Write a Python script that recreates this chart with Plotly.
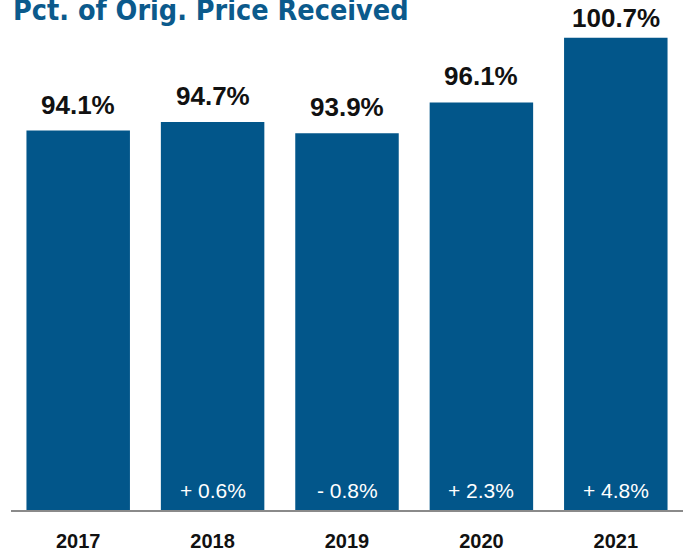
import plotly.graph_objects as go

years = ["2017", "2018", "2019", "2020", "2021"]
pct_received = [94.1, 94.7, 93.9, 96.1, 100.7]
value_labels = ["94.1%", "94.7%", "93.9%", "96.1%", "100.7%"]
change_labels = ["", "+ 0.6%", "- 0.8%", "+ 2.3%", "+ 4.8%"]
title_text = "Pct. of Orig. Price Received"

BAR_COLOR = "#02568A"
Y_MIN, Y_MAX = 67.1, 101.25

fig = go.Figure()
fig.add_trace(go.Bar(
    x=years, y=pct_received,
    marker=dict(color=BAR_COLOR, line=dict(width=0)),
    width=0.77,
    hoverinfo="skip",
))

top_value = max(pct_received)
for i, (v, lab) in enumerate(zip(pct_received, value_labels)):
    # the tallest bar's label sits a little closer so it stays on the page
    shift = 20 if v == top_value else 26
    fig.add_annotation(
        x=i, y=v, xref="x", yref="y", text=lab, showarrow=False,
        yanchor="middle", yshift=shift,
        font=dict(family="Liberation Sans, Arial, sans-serif", size=26,
                  color="#111111", weight="bold"),
    )
for i, lab in enumerate(change_labels):
    if lab:
        fig.add_annotation(
            x=i, y=0, xref="x", yref="paper", text=lab, showarrow=False,
            yanchor="middle", yshift=20,
            font=dict(family="Liberation Sans, Arial, sans-serif", size=21, color="white"),
        )

# title (partially clipped at top of page, as in reference)
fig.add_annotation(
    x=0, y=1 + 20 / 485, xref="paper", yref="paper",
    xanchor="left", yanchor="middle",
    text=title_text, showarrow=False,
    font=dict(family="DejaVu Sans Condensed, Liberation Sans Narrow, Arial Narrow, sans-serif",
              size=28.5, color="#0B5A8C", weight="bold"),
)

fig.update_layout(
    width=685, height=554,
    margin=dict(l=11, r=2, t=30, b=39),
    paper_bgcolor="white", plot_bgcolor="white",
    showlegend=False,
    bargap=0.23,
    xaxis=dict(
        type="category", range=[-0.5, 4.5], showgrid=False, zeroline=False,
        showline=True, linecolor="#8a8a8a", linewidth=1.5,
        ticks="", ticklabelstandoff=12,
        tickfont=dict(family="Liberation Sans, Arial, sans-serif", size=20,
                      color="#111111", weight="bold"),
    ),
    yaxis=dict(range=[Y_MIN, Y_MAX], visible=False, showgrid=False, zeroline=False),
)

fig.write_html("out.html")
